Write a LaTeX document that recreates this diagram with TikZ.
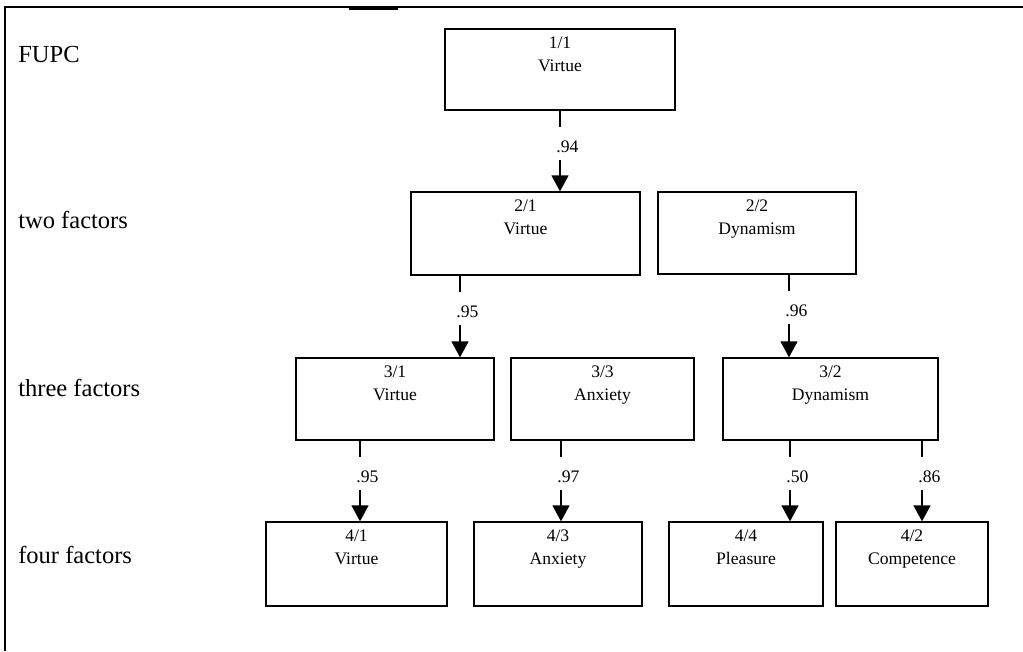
\documentclass[tikz,border=0pt]{standalone}
\usepackage{fontspec}
\setmainfont{Liberation Serif}
\usetikzlibrary{arrows.meta}
\tikzset{
  fbox/.style={draw, line width=1pt, rectangle, inner sep=0pt},
  btext/.style={anchor=north, align=center, inner sep=0pt, font=\fontsize{13.2}{17.25}\selectfont},
  rowlbl/.style={anchor=base west, inner sep=0pt, font=\fontsize{18.4}{22}\selectfont},
  arr/.style={line width=1pt, -{Triangle[width=12.75pt,length=12pt]}},
  coef/.style={anchor=base, fill=white, inner xsep=1pt, inner ysep=0pt, text height=19.5pt, text depth=5.25pt, font=\fontsize{13.2}{16}\selectfont},
  frame/.style={line width=1.5pt}
}
\begin{document}
\begin{tikzpicture}[x=0.75pt,y=-0.75pt]
\useasboundingbox (0,0) rectangle (1023,651);
% frame
\draw[frame] (5,651) -- (5,7) -- (1023,7);
\draw[line width=2pt] (349,9) -- (398,9);
% row labels
\node[rowlbl] (l1) at (18,62) {FUPC};
\node[rowlbl] (l2) at (18,228) {two factors};
\node[rowlbl] (l3) at (18,396) {three factors};
\node[rowlbl] (l4) at (18,563) {four factors};
% boxes
\node[fbox, minimum width=172.5pt, minimum height=60.75pt] (n11) at (560,69.5) {};
\node[fbox, minimum width=171.75pt, minimum height=62.25pt] (n21) at (525.5,233.5) {};
\node[fbox, minimum width=148.5pt, minimum height=61.5pt] (n22) at (757,233) {};
\node[fbox, minimum width=148.5pt, minimum height=61.5pt] (n31) at (395,399) {};
\node[fbox, minimum width=137.25pt, minimum height=61.5pt] (n33) at (602.5,399) {};
\node[fbox, minimum width=161.25pt, minimum height=61.5pt] (n32) at (830.5,399) {};
\node[fbox, minimum width=135.75pt, minimum height=63pt] (n41) at (356.5,564) {};
\node[fbox, minimum width=126pt, minimum height=63pt] (n43) at (558,564) {};
\node[fbox, minimum width=115.5pt, minimum height=63pt] (n44) at (746,564) {};
\node[fbox, minimum width=114pt, minimum height=63pt] (n42) at (912,564) {};
% box texts
\node[btext] (t11) at ([yshift=-6pt]n11.north) {1/1\\Virtue};
\node[btext] (t21) at ([yshift=-6pt]n21.north) {2/1\\Virtue};
\node[btext] (t22) at ([yshift=-6pt]n22.north) {2/2\\Dynamism};
\node[btext] (t31) at ([yshift=-6pt]n31.north) {3/1\\Virtue};
\node[btext] (t33) at ([yshift=-6pt]n33.north) {3/3\\Anxiety};
\node[btext] (t32) at ([yshift=-6pt]n32.north) {3/2\\Dynamism};
\node[btext] (t41) at ([yshift=-6pt]n41.north) {4/1\\Virtue};
\node[btext] (t43) at ([yshift=-6pt]n43.north) {4/3\\Anxiety};
\node[btext] (t44) at ([yshift=-6pt]n44.north) {4/4\\Pleasure};
\node[btext] (t42) at ([yshift=-6pt]n42.north) {4/2\\Competence};
% connectors
\coordinate (s1) at (n11.south);
\coordinate (s2) at ([xshift=-49.125pt]n21.south);
\coordinate (s3) at ([xshift=24pt]n22.south);
\coordinate (s4) at ([xshift=-26.25pt]n31.south);
\coordinate (s5) at ([xshift=-31.125pt]n33.south);
\coordinate (s6) at ([xshift=-30.375pt]n32.south);
\coordinate (s7) at ([xshift=68.625pt]n32.south);
\draw[arr] (s1) -- (s1 |- n21.north);
\draw[arr] (s2) -- (s2 |- n31.north);
\draw[arr] (s3) -- (s3 |- n32.north);
\draw[arr] (s4) -- (s4 |- n41.north);
\draw[arr] (s5) -- (s5 |- n43.north);
\draw[arr] (s6) -- (s6 |- n44.north);
\draw[arr] (s7) -- (s7 |- n42.north);
\node[coef] (c1) at ([xshift=5.6pt,yshift=-31.5pt]s1) {.94};
\node[coef] (c2) at ([xshift=5.6pt,yshift=-31.5pt]s2) {.95};
\node[coef] (c3) at ([xshift=5.6pt,yshift=-31.5pt]s3) {.96};
\node[coef] (c4) at ([xshift=5.6pt,yshift=-31.5pt]s4) {.95};
\node[coef] (c5) at ([xshift=5.6pt,yshift=-31.5pt]s5) {.97};
\node[coef] (c6) at ([xshift=5.6pt,yshift=-31.5pt]s6) {.50};
\node[coef] (c7) at ([xshift=5.6pt,yshift=-31.5pt]s7) {.86};
\end{tikzpicture}
\end{document}
